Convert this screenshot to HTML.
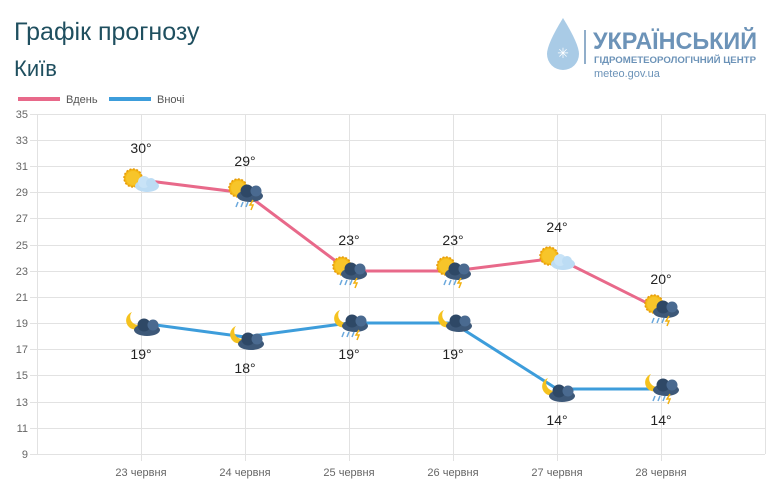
<!DOCTYPE html><html><head><meta charset="utf-8"><style>
body{margin:0;width:769px;height:496px;background:#fff;overflow:hidden;font-family:"Liberation Sans",sans-serif}
</style></head><body>
<svg width="769" height="496" xmlns="http://www.w3.org/2000/svg" font-family="Liberation Sans, sans-serif">
<defs>
<g id="sun"><circle r="9" fill="#f5b915" stroke="#e59a0c" stroke-width="1.5" stroke-dasharray="2 1.5"/><circle r="7" fill="#f7c52a"/></g>
<g id="lc"><ellipse cx="6" cy="4" rx="12" ry="6" fill="#bcdcf4"/><circle cx="3" cy="0" r="6" fill="#c8e3f7"/><circle cx="10" cy="1" r="5" fill="#bcdcf4"/></g>
<g id="dc"><ellipse cx="6" cy="4" rx="13" ry="6" fill="#3d5878"/><circle cx="3" cy="-1" r="6.5" fill="#2e4866"/><circle cx="12" cy="-1" r="5.5" fill="#4a6a90"/></g>
<g id="rain" stroke="#6aa8dc" stroke-width="1.5"><line x1="-4" y1="12" x2="-6" y2="17"/><line x1="1" y1="12" x2="-1" y2="17"/><line x1="6" y1="12" x2="4" y2="17"/><path d="M11 10 l-3 5 h3 l-2 5" fill="none" stroke="#f2b111"/></g>
<g id="moon"><path d="M-4 -10 a9 9 0 1 0 12 10 a7 7 0 0 1 -12 -10z" fill="#f5c21f"/></g>
</defs>
<text x="14" y="40" font-size="25" fill="#1f4f5f">Графік прогнозу</text>
<text x="14" y="76" font-size="22" fill="#1f4f5f">Київ</text>
<path d="M563 18 q-16 26 -16 36 a16 16 0 0 0 32 0 q0 -10 -16 -36z" fill="#a9cbe6"/>
<text x="563" y="58" font-size="14" fill="#fff" text-anchor="middle">✳</text>
<line x1="585" y1="30" x2="585" y2="64" stroke="#6c93b8" stroke-width="1.5"/>
<text x="593" y="49" font-size="24" font-weight="bold" fill="#6c93b8" textLength="164" lengthAdjust="spacingAndGlyphs">УКРАЇНСЬКИЙ</text>
<text x="594" y="63" font-size="9.5" font-weight="bold" fill="#6c93b8" textLength="162" lengthAdjust="spacingAndGlyphs">ГІДРОМЕТЕОРОЛОГІЧНИЙ ЦЕНТР</text>
<text x="594" y="77" font-size="11" fill="#6c93b8">meteo.gov.ua</text>
<rect x="18" y="97" width="42" height="4" fill="#e8698a"/><text x="66" y="103" font-size="11" fill="#555">Вдень</text>
<rect x="109" y="97" width="42" height="4" fill="#3d9ddb"/><text x="157" y="103" font-size="11" fill="#555">Вночі</text>
<g stroke="#e2e2e2" stroke-width="1">
<line x1="30" y1="114.5" x2="765" y2="114.5"/><line x1="30" y1="140.5" x2="765" y2="140.5"/><line x1="30" y1="166.5" x2="765" y2="166.5"/><line x1="30" y1="192.5" x2="765" y2="192.5"/><line x1="30" y1="218.5" x2="765" y2="218.5"/><line x1="30" y1="245.5" x2="765" y2="245.5"/><line x1="30" y1="271.5" x2="765" y2="271.5"/><line x1="30" y1="297.5" x2="765" y2="297.5"/><line x1="30" y1="323.5" x2="765" y2="323.5"/><line x1="30" y1="349.5" x2="765" y2="349.5"/><line x1="30" y1="375.5" x2="765" y2="375.5"/><line x1="30" y1="402.5" x2="765" y2="402.5"/><line x1="30" y1="428.5" x2="765" y2="428.5"/><line x1="30" y1="454.5" x2="765" y2="454.5"/>
<line x1="37.5" y1="114" x2="37.5" y2="454"/><line x1="765.5" y1="114" x2="765.5" y2="454"/>
<line x1="141.5" y1="114" x2="141.5" y2="461"/><line x1="245.5" y1="114" x2="245.5" y2="461"/><line x1="349.5" y1="114" x2="349.5" y2="461"/><line x1="453.5" y1="114" x2="453.5" y2="461"/><line x1="557.5" y1="114" x2="557.5" y2="461"/><line x1="661.5" y1="114" x2="661.5" y2="461"/>
</g>
<g font-size="11" fill="#666" text-anchor="end">
<text x="28" y="118">35</text><text x="28" y="144">33</text><text x="28" y="170">31</text><text x="28" y="196">29</text><text x="28" y="222">27</text><text x="28" y="249">25</text><text x="28" y="275">23</text><text x="28" y="301">21</text><text x="28" y="327">19</text><text x="28" y="353">17</text><text x="28" y="379">15</text><text x="28" y="406">13</text><text x="28" y="432">11</text><text x="28" y="458">9</text>
</g>
<g font-size="11" fill="#666" text-anchor="middle">
<text x="141" y="476">23 червня</text><text x="245" y="476">24 червня</text><text x="349" y="476">25 червня</text><text x="453" y="476">26 червня</text><text x="557" y="476">27 червня</text><text x="661" y="476">28 червня</text>
</g>
<polyline points="141,180 245,193 349,271 453,271 557,258 661,310" fill="none" stroke="#e8698a" stroke-width="3"/>
<polyline points="141,323 245,337 349,323 453,323 557,389 661,389" fill="none" stroke="#3d9ddb" stroke-width="3"/>
<g font-size="14" fill="#222" text-anchor="middle">
<text x="141" y="153">30°</text><text x="245" y="166">29°</text><text x="349" y="245">23°</text><text x="453" y="245">23°</text><text x="557" y="232">24°</text><text x="661" y="284">20°</text>
<text x="141" y="359">19°</text><text x="245" y="373">18°</text><text x="349" y="359">19°</text><text x="453" y="359">19°</text><text x="557" y="425">14°</text><text x="661" y="425">14°</text>
</g>
<g transform="translate(133,178)"><use href="#sun"/><use href="#lc" x="8" y="4"/></g>
<g transform="translate(238,188)"><use href="#sun"/><use href="#dc" x="6" y="4"/><use href="#rain" x="4" y="2"/></g>
<g transform="translate(342,266)"><use href="#sun"/><use href="#dc" x="6" y="4"/><use href="#rain" x="4" y="2"/></g>
<g transform="translate(446,266)"><use href="#sun"/><use href="#dc" x="6" y="4"/><use href="#rain" x="4" y="2"/></g>
<g transform="translate(549,256)"><use href="#sun"/><use href="#lc" x="8" y="4"/></g>
<g transform="translate(654,304)"><use href="#sun"/><use href="#dc" x="6" y="4"/><use href="#rain" x="4" y="2"/></g>
<g transform="translate(136,322)"><use href="#moon"/><use href="#dc" x="5" y="4"/></g>
<g transform="translate(240,336)"><use href="#moon"/><use href="#dc" x="5" y="4"/></g>
<g transform="translate(344,320)"><use href="#moon"/><use href="#dc" x="5" y="2"/><use href="#rain" x="4" y="0"/></g>
<g transform="translate(448,320)"><use href="#moon"/><use href="#dc" x="5" y="2"/></g>
<g transform="translate(552,388)"><use href="#moon"/><use href="#dc" x="4" y="4"/></g>
<g transform="translate(655,384)"><use href="#moon"/><use href="#dc" x="5" y="2"/><use href="#rain" x="4" y="0"/></g>
</svg>
</body></html>
